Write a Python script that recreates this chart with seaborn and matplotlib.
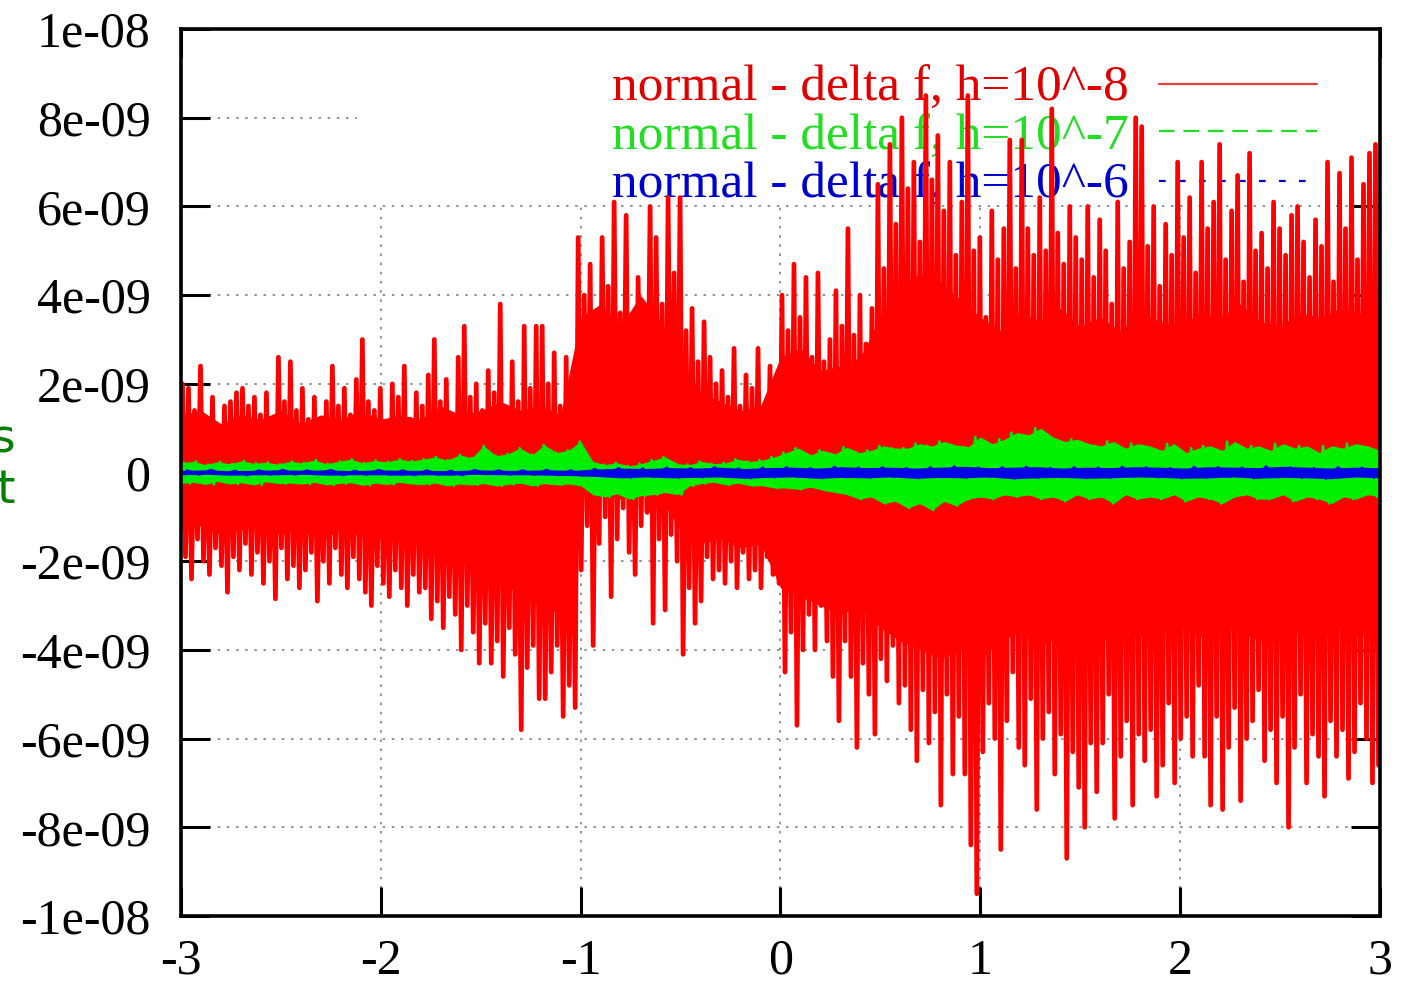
import numpy as np
import matplotlib
matplotlib.use("Agg")
import matplotlib.pyplot as plt
import seaborn as sns
from matplotlib.patches import Rectangle

# values are in units of 1e-9
# red: h=10^-8, 200 bins of 0.03 over [-3, 3] (spike top / spike bottom per bin)
red_hi = [
    2.0, 1.9, 1.4, 2.4, 1.2, 1.7, 1.0, 1.5, 1.6, 1.8,
    1.9, 1.5, 1.7, 1.3, 1.8, 1.1, 2.6, 1.6, 2.5, 1.4,
    1.9, 1.2, 1.7, 0.9, 1.6, 2.4, 1.5, 1.9, 1.3, 2.1,
    3.0, 1.6, 1.4, 1.9, 1.0, 2.0, 1.7, 2.4, 1.2, 1.8,
    1.5, 2.2, 3.0, 1.6, 2.1, 1.3, 2.6, 3.3, 1.7, 2.0,
    1.4, 2.3, 1.8, 3.8, 1.2, 2.5, 1.6, 3.3, 1.9, 3.3,
    3.3, 2.0, 2.7, 1.5, 2.6, 1.8, 5.3, 4.0, 4.7, 3.2,
    5.3, 4.2, 6.1, 3.6, 5.8, 3.0, 4.4, 2.8, 6.0, 5.3,
    3.8, 6.2, 4.5, 6.2, 3.2, 3.7, 2.5, 3.4, 2.6, 2.0,
    2.3, 1.7, 2.8, 1.5, 2.2, 1.9, 2.8, 1.4, 2.4, 2.1,
    4.0, 3.2, 4.7, 3.5, 4.4, 2.6, 4.5, 2.5, 3.0, 4.1,
    3.3, 5.5, 3.1, 4.0, 2.9, 3.7, 6.5, 4.6, 7.4, 5.6,
    8.0, 6.4, 7.0, 5.2, 8.5, 6.6, 7.6, 5.9, 7.0, 4.9,
    6.1, 8.5, 5.0, 5.3, 3.5, 5.9, 4.8, 5.5, 7.5, 4.6,
    7.5, 5.5, 4.9, 6.2, 5.0, 8.2, 5.4, 4.7, 6.0, 5.3,
    4.8, 6.0, 4.4, 5.7, 5.0, 3.8, 6.1, 4.6, 5.2, 8.0,
    7.8, 5.1, 6.0, 4.2, 5.6, 4.9, 7.0, 5.3, 6.2, 4.5,
    7.0, 5.5, 6.1, 7.4, 4.8, 5.9, 6.7, 4.3, 7.2, 5.0,
    5.4, 4.6, 6.1, 5.5, 4.9, 5.8, 6.0, 5.2, 4.4, 5.7,
    5.1, 7.0, 4.3, 6.75, 5.5, 7.1, 4.8, 6.5, 7.2, 7.4,
]
red_lo = [
    -1.9, -2.4, -1.5, -2.0, -2.3, -1.7, -2.1, -2.7, -1.9, -2.2,
    -1.6, -2.3, -1.8, -2.5, -2.0, -2.85, -1.7, -2.4, -2.1, -2.6,
    -2.2, -1.8, -2.9, -2.0, -2.5, -1.7, -2.3, -2.6, -1.9, -2.4,
    -2.7, -3.0, -2.1, -2.5, -2.8, -2.2, -2.6, -3.0, -2.3, -2.7,
    -2.6, -3.3, -2.9, -3.5, -2.8, -3.2, -4.0, -3.0, -3.6, -4.3,
    -3.4, -4.3, -3.8, -4.6, -3.5, -4.1, -5.8, -4.4, -3.9, -5.1,
    -5.1, -4.5, -3.9, -5.5, -4.8, -5.3, -2.2, -1.2, -3.9, -1.6,
    -1.0, -2.8, -1.5, -0.8, -1.8, -2.3, -1.2, -0.9, -3.4, -1.5,
    -3.1, -1.4, -2.0, -4.1, -2.6, -3.4, -2.9, -1.9, -2.4, -2.2,
    -2.5, -2.0, -2.6, -1.8, -2.4, -2.2, -2.6, -1.9, -2.3, -2.5,
    -4.5, -3.6, -5.7, -4.0, -3.2, -4.0, -3.0, -3.8, -4.6, -5.6,
    -3.8, -4.6, -6.2, -4.3, -5.0, -5.9, -4.2, -4.7, -3.9, -5.2,
    -4.8, -5.8, -6.5, -4.9, -6.1, -5.4, -7.5, -5.0, -6.8, -5.5,
    -6.8, -8.4, -9.5, -6.3, -5.2, -6.0, -8.5, -5.6, -4.5, -6.2,
    -6.6, -5.1, -7.6, -6.0, -5.4, -6.8, -5.9, -8.7, -6.3, -7.1,
    -8.0, -6.1, -7.2, -6.1, -5.0, -7.8, -6.4, -5.6, -7.5, -5.9,
    -6.5, -5.8, -7.3, -6.6, -5.2, -7.0, -6.0, -5.5, -6.4, -4.8,
    -6.4, -7.5, -5.5, -7.6, -6.2, -5.3, -7.4, -6.0, -5.6, -4.9,
    -6.5, -5.8, -7.0, -5.5, -8.0, -6.2, -5.0, -7.0, -5.9, -6.4,
    -7.3, -5.6, -6.4, -5.8, -6.9, -6.3, -5.2, -6.0, -7.0, -6.6,
]
# solid part of the red band, every 0.1 from -3 to 3
red_core_hi = [
    1.3, 1.4, 1.1, 1.3, 1.2, 1.4, 1.1, 1.3, 1.2, 1.4,
    1.2, 1.3, 1.2, 1.5, 1.3, 1.4, 1.6, 1.4, 1.5, 1.3,
    3.5, 3.8, 3.3, 4.0, 3.4, 2.5, 1.8, 1.6, 1.4, 1.5,
    2.6, 2.8, 2.3, 2.4, 2.6, 3.5, 4.2, 4.5, 4.3, 3.9,
    3.5, 3.2, 3.6, 3.4, 3.7, 3.3, 3.5, 3.2, 3.6, 3.4,
    3.3, 3.6, 3.5, 3.8, 3.4, 3.3, 3.6, 3.5, 3.7, 3.6, 3.8,
]
red_core_lo = [
    -1.3, -1.2, -1.4, -1.3, -1.2, -1.4, -1.3, -1.5, -1.3, -1.4,
    -1.5, -1.4, -1.6, -1.8, -2.0, -2.2, -2.4, -2.8, -3.0, -3.2,
    -0.5, -0.5, -0.6, -0.5, -0.6, -1.3, -1.6, -1.5, -1.7, -1.6,
    -2.6, -2.8, -3.0, -3.2, -3.0, -3.5, -3.8, -4.0, -4.2, -4.0,
    -4.2, -3.8, -3.6, -3.9, -3.7, -3.5, -3.8, -3.6, -3.7, -3.5,
    -3.4, -3.7, -3.5, -3.6, -3.8, -3.5, -3.6, -3.8, -3.5, -3.7, -3.6,
]

# green: h=10^-7, 100 points over [-3, 3]
green_hi = [
    0.22, 0.25, 0.18, 0.24, 0.2, 0.26, 0.21, 0.23, 0.19, 0.25,
    0.22, 0.28, 0.2, 0.25, 0.3, 0.22, 0.27, 0.24, 0.3, 0.26,
    0.3, 0.35, 0.28, 0.4, 0.33, 0.6, 0.38, 0.42, 0.55, 0.4,
    0.62, 0.45, 0.5, 0.7, 0.25, 0.18, 0.22, 0.15, 0.2, 0.28,
    0.35, 0.2, 0.18, 0.25, 0.2, 0.22, 0.3, 0.25, 0.28, 0.35,
    0.45, 0.55, 0.4, 0.5, 0.42, 0.57, 0.45, 0.5, 0.6, 0.55,
    0.55, 0.65, 0.6, 0.7, 0.62, 0.58, 0.8, 0.65, 0.75, 0.9,
    0.85, 1.0, 0.8, 0.7, 0.75, 0.65, 0.6, 0.7, 0.55, 0.65,
    0.6, 0.5, 0.65, 0.45, 0.55, 0.6, 0.5, 0.7, 0.55, 0.6,
    0.5, 0.65, 0.55, 0.6, 0.45, 0.6, 0.55, 0.65, 0.6, 0.5,
]
green_lo = [
    -0.25, -0.22, -0.27, -0.2, -0.26, -0.23, -0.28, -0.21, -0.25, -0.24,
    -0.26, -0.22, -0.28, -0.25, -0.23, -0.29, -0.24, -0.27, -0.22, -0.26,
    -0.27, -0.24, -0.3, -0.26, -0.28, -0.25, -0.3, -0.27, -0.24, -0.3,
    -0.25, -0.28, -0.26, -0.3, -0.5, -0.55, -0.48, -0.6, -0.52, -0.5,
    -0.45, -0.5, -0.3, -0.25, -0.22, -0.28, -0.24, -0.3, -0.3, -0.35,
    -0.35, -0.38, -0.33, -0.4, -0.45, -0.5, -0.6, -0.55, -0.7, -0.65,
    -0.8, -0.7, -0.85, -0.65, -0.75, -0.6, -0.55, -0.6, -0.5, -0.55,
    -0.5, -0.6, -0.55, -0.65, -0.5, -0.6, -0.55, -0.7, -0.5, -0.6,
    -0.55, -0.6, -0.5, -0.65, -0.55, -0.6, -0.7, -0.55, -0.5, -0.6,
    -0.6, -0.5, -0.65, -0.55, -0.6, -0.7, -0.55, -0.6, -0.5, -0.55,
]

# blue: h=10^-6, 50 points over [-3, 3]
blue_hi = [
    0.05, 0.06, 0.04, 0.05, 0.06, 0.05, 0.06, 0.04, 0.06, 0.05,
    0.05, 0.04, 0.06, 0.05, 0.05, 0.06, 0.05, 0.08, 0.1, 0.09,
    0.11, 0.1, 0.12, 0.09, 0.11, 0.12, 0.1, 0.13, 0.11, 0.12,
    0.1, 0.12, 0.14, 0.11, 0.12, 0.13, 0.1, 0.12, 0.11, 0.13,
    0.12, 0.1, 0.13, 0.12, 0.11, 0.14, 0.12, 0.1, 0.12, 0.11,
]
blue_lo = [
    -0.05, -0.04, -0.06, -0.05, -0.05, -0.04, -0.06, -0.05, -0.05, -0.06,
    -0.05, -0.06, -0.04, -0.05, -0.05, -0.06, -0.07, -0.09, -0.12, -0.1,
    -0.12, -0.11, -0.1, -0.13, -0.11, -0.1, -0.13, -0.11, -0.12, -0.1,
    -0.13, -0.11, -0.12, -0.1, -0.14, -0.12, -0.11, -0.13, -0.12, -0.1,
    -0.11, -0.13, -0.12, -0.1, -0.13, -0.11, -0.12, -0.14, -0.1, -0.12,
]

x_ticks = [-3, -2, -1, 0, 1, 2, 3]
x_labels = ["-3", "-2", "-1", "0", "1", "2", "3"]
y_ticks = [-10, -8, -6, -4, -2, 0, 2, 4, 6, 8, 10]
y_labels = ["-1e-08", "-8e-09", "-6e-09", "-4e-09", "-2e-09", "0",
            "2e-09", "4e-09", "6e-09", "8e-09", "1e-08"]
legend_labels = ["normal - delta f, h=10^-8", "normal - delta f, h=10^-7", "normal - delta f, h=10^-6"]


def zigzag(hi, lo):
    n = len(hi)
    w = 6.0 / n
    left = -3.0 + w * np.arange(n)
    xz = np.column_stack([left + w / 4, left + 3 * w / 4]).ravel()
    yz = np.column_stack([hi, lo]).ravel()
    return xz, yz


def main():
    sns.set_style("ticks")
    plt.rcParams['font.family'] = ['Liberation Serif', 'DejaVu Serif']

    fig = plt.figure(figsize=(14.01, 9.84), dpi=100)
    ax = fig.add_axes([0.1292, 0.0691, 0.8558, 0.9014])

    # grid, partly hidden by the key box
    ax.set_axisbelow(True)
    ax.grid(True, color="#808080", lw=1.2, ls=(0, (1.5, 4)))
    ax.add_patch(Rectangle((-2.12, 6.05), 5.2, 4.0, facecolor="white", edgecolor="none", zorder=1.2))

    red, green, blue = "#ff0000", "#00ee00", "#0000e6"

    # key
    key_y = [8.37, 7.28, 6.2]
    key_line_y = [8.77, 7.69, 6.58]
    key_text_colors = ["#e00000", "#22dd22", "#0000cc"]
    key_styles = ["-", (0, (7, 4)), (0, (3, 6))]
    key_line_colors = ["#e04040", "#22dd22", "#0000cc"]
    for lab, ty, ly, tc, st, lc in zip(legend_labels, key_y, key_line_y, key_text_colors,
                                       key_styles, key_line_colors):
        ax.text(1.745, ty, lab, ha="right", va="baseline", fontsize=37, color=tc, zorder=1.5)
        ax.plot([1.895, 2.685], [ly, ly], color=lc, lw=1.6, ls=st, zorder=1.5)

    # red series: solid band plus spikes
    core_x = np.linspace(-3, 3, len(red_core_hi))
    ax.fill_between(core_x, red_core_lo, red_core_hi, color=red, lw=0, zorder=3)
    xz, yz = zigzag(red_hi, red_lo)
    sns.lineplot(x=xz, y=yz, sort=False, estimator=None, color=red, lw=3.4, ax=ax, zorder=3)

    # green series
    gx = np.linspace(-3, 3, len(green_hi))
    ax.fill_between(gx, green_lo, green_hi, color=green, lw=0, zorder=4)
    xz, yz = zigzag(green_hi, green_lo)
    sns.lineplot(x=xz, y=yz, sort=False, estimator=None, color=green, lw=1.8, ax=ax, zorder=4)

    # blue series
    bx = np.linspace(-3, 3, len(blue_hi))
    ax.fill_between(bx, blue_lo, blue_hi, color=blue, lw=0, zorder=5)
    xz, yz = zigzag(blue_hi, blue_lo)
    sns.lineplot(x=xz, y=yz, sort=False, estimator=None, color=blue, lw=1.6, ax=ax, zorder=5)

    ax.set_xlim(-3, 3)
    ax.set_ylim(-10, 10)
    ax.set_xticks(x_ticks)
    ax.set_xticklabels(x_labels)
    ax.set_yticks(y_ticks)
    ax.set_yticklabels(y_labels)
    ax.tick_params(axis="both", direction="in", length=21, width=2.2, top=True, right=True,
                   labelsize=36, colors="black")
    ax.tick_params(axis="x", pad=16)
    ax.tick_params(axis="y", pad=22)
    for sp in ax.spines.values():
        sp.set_linewidth(2.6)
        sp.set_color("black")
        sp.set_zorder(6)
    ax.set_xlabel("")
    ax.set_ylabel("")

    # clipped text at the left edge, as in the source image
    fig.text(15 / 1401, 1 - 440 / 984, "s", ha="right", va="center", fontsize=34,
             color="#008000", family="DejaVu Sans")
    fig.text(15 / 1401, 1 - 490 / 984, "t", ha="right", va="center", fontsize=34,
             color="#008000", family="DejaVu Sans")

    fig.savefig("out.png", dpi=100)
    plt.close(fig)


if __name__ == "__main__":
    main()
